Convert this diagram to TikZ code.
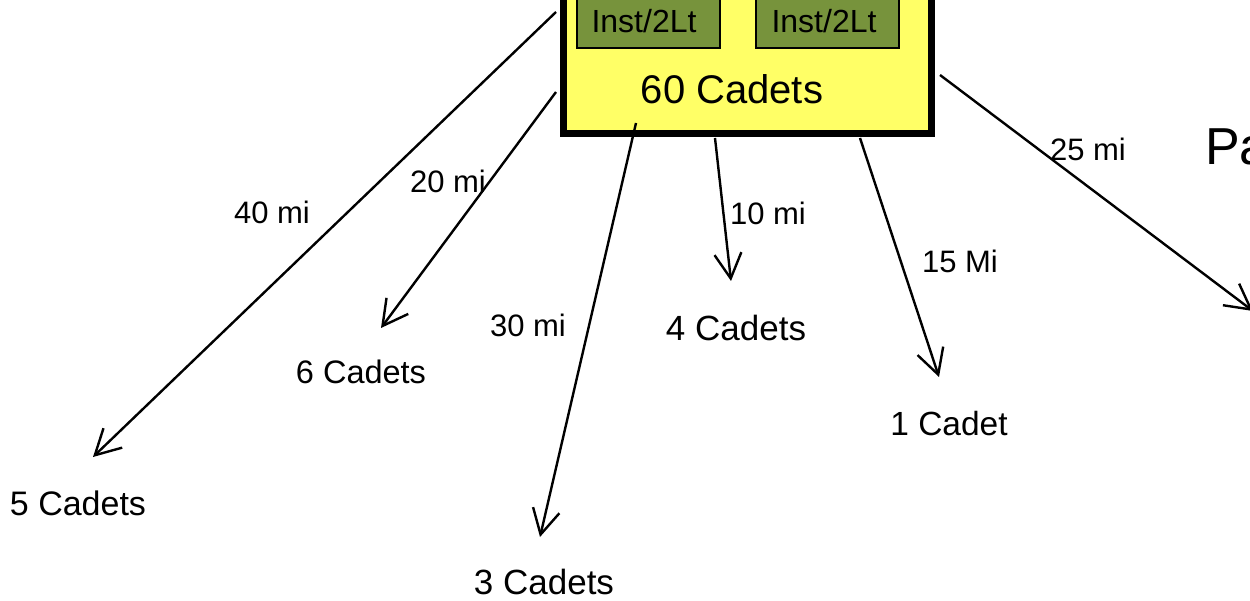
\documentclass[tikz,border=0pt]{standalone}
\usepackage{fontspec}
\setmainfont{Liberation Sans}
\usetikzlibrary{arrows.meta}
\definecolor{boxyellow}{HTML}{FFFF66}
\definecolor{olivegreen}{HTML}{77933C}
\begin{document}
\begin{tikzpicture}[x=1pt,y=-1pt,
  lbl/.style={anchor=base,inner sep=0pt,font=\fontsize{31}{36}\selectfont},
  cad/.style={anchor=base,inner sep=0pt,font=\fontsize{#1}{40}\selectfont},
  conn/.style={line width=2.4pt,-{Straight Barb[length=25pt,width=27pt,line width=2.4pt]}},
  inst/.style={draw=black,line width=1.5pt,fill=olivegreen}]
\clip (0,0) rectangle (1250,601);
\useasboundingbox (0,0) rectangle (1250,601);
% main box
\draw[line width=7pt,fill=boxyellow] (563.5,-40) rectangle (931.5,133.5);
\node[inst,minimum width=143pt,minimum height=60pt,anchor=south west] (i1) at (576,49) {};
\node[inst,minimum width=143pt,minimum height=60pt,anchor=south west] (i2) at (755,49) {};
\node[anchor=base,inner sep=0pt,font=\fontsize{32}{36}\selectfont] (t1) at (644,33) {Inst/2Lt};
\node[anchor=base,inner sep=0pt,font=\fontsize{32}{36}\selectfont] (t2) at (824,33) {Inst/2Lt};
\node[anchor=base,inner sep=0pt,font=\fontsize{40}{46}\selectfont] (main) at (732,104) {60 Cadets};
% start / tip coordinates
\coordinate (s40) at (556,12);   \coordinate (e40) at (93,457);
\coordinate (s20) at (556,92);   \coordinate (e20) at (381,328);
\coordinate (s30) at (636,123);  \coordinate (e30) at (540,537);
\coordinate (s10) at (715,138);  \coordinate (e10) at (731,281);
\coordinate (s15) at (860,138);  \coordinate (e15) at (939,377);
\coordinate (s25) at (940,75);   \coordinate (e25) at (1253,311);
\draw[conn] (s40) -- (e40);
\draw[conn] (s20) -- (e20);
\draw[conn] (s30) -- (e30);
\draw[conn] (s10) -- (e10);
\draw[conn] (s15) -- (e15);
\draw[conn] (s25) -- (e25);
% distance labels
\node[lbl] (l40) at (272,224) {40 mi};
\node[lbl] (l20) at (448,193) {20 mi};
\node[lbl] (l30) at (528,337) {30 mi};
\node[lbl] (l10) at (768,225) {10 mi};
\node[lbl] (l15) at (960,273) {15 Mi};
\node[lbl] (l25) at (1088,161) {25 mi};
% destinations
\node[cad=34] (c5) at (78,515) {5 Cadets};
\node[cad=32.5] (c6) at (361,384) {6 Cadets};
\node[cad=35] (c3) at (544,594) {3 Cadets};
\node[cad=35] (c4) at (736,341) {4 Cadets};
\node[cad=33.5] (c1) at (949,435) {1 Cadet};
\node[anchor=base west,inner sep=0pt,font=\fontsize{52}{60}\selectfont] (pa) at (1205,165) {Pa};
\end{tikzpicture}
\end{document}
